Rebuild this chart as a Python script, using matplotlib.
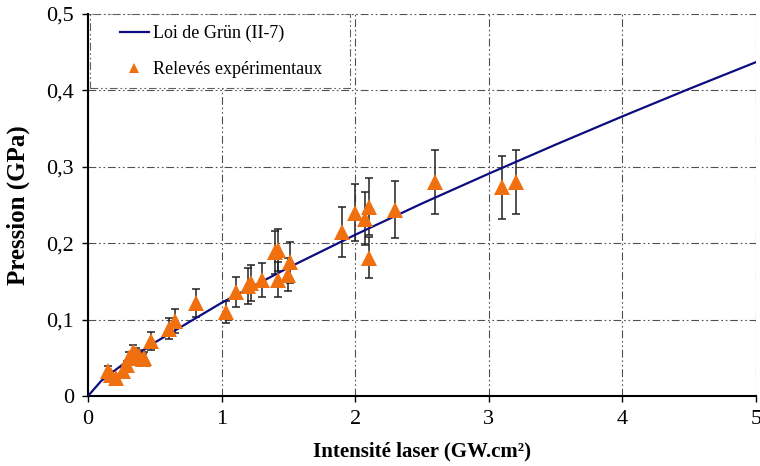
import matplotlib
matplotlib.use("Agg")
import matplotlib.pyplot as plt
from matplotlib.ticker import FuncFormatter
from matplotlib.patches import Rectangle

# Grün law curve
law_I = [0.0, 0.1, 0.25, 0.5, 1.0, 1.5, 2.0, 2.5, 3.0, 3.5, 4.0, 4.5, 5.0]
law_P = [0.0, 0.020, 0.040, 0.070, 0.122, 0.168, 0.211, 0.252, 0.291, 0.329, 0.366, 0.402, 0.437]

# Experimental points
exp_I = [0.15, 0.17, 0.21, 0.26, 0.29, 0.31, 0.34, 0.36, 0.38, 0.41, 0.42, 0.47, 0.61, 0.65,
         0.81, 1.03, 1.11, 1.20, 1.22, 1.30, 1.40, 1.42, 1.42, 1.50, 1.51, 1.90, 2.00, 2.07,
         2.10, 2.10, 2.30, 2.60, 3.10, 3.20]
exp_P = [0.033, 0.028, 0.024, 0.033, 0.040, 0.050, 0.058, 0.055, 0.052, 0.048, 0.050, 0.072,
         0.088, 0.098, 0.122, 0.110, 0.136, 0.144, 0.148, 0.152, 0.188, 0.191, 0.152, 0.159,
         0.175, 0.215, 0.240, 0.232, 0.248, 0.181, 0.244, 0.280, 0.273, 0.280]
exp_err = [0.006, 0.005, 0.004, 0.005, 0.006, 0.008, 0.009, 0.008, 0.008, 0.007, 0.007, 0.012,
           0.014, 0.016, 0.018, 0.015, 0.020, 0.023, 0.023, 0.022, 0.028, 0.028, 0.023, 0.022,
           0.027, 0.033, 0.037, 0.035, 0.037, 0.027, 0.037, 0.042, 0.041, 0.042]

x_ticks = [0, 1, 2, 3, 4, 5]
y_ticks = [0, 0.1, 0.2, 0.3, 0.4, 0.5]

plt.rcParams['font.family'] = ['Liberation Serif', 'DejaVu Serif']

fig = plt.figure(figsize=(7.6, 4.66), dpi=100)
ax = fig.add_axes([88/760, 70/466, 668/760, 382/466])

gridstyle = (0, (7, 2.5, 1.5, 2.5, 1.5, 2.5))
ax.set_axisbelow(True)
ax.grid(True, color='#505050', linewidth=0.8, linestyle=gridstyle)

ax.plot(law_I, law_P, color='#0d0d80', linewidth=1.6, label='Loi de Grün (II-7)', zorder=3)
ax.errorbar(exp_I, exp_P, yerr=exp_err, fmt='none', ecolor='#222222', elinewidth=1.1,
            capsize=3, capthick=1.1, zorder=2)
ax.plot(exp_I, exp_P, linestyle='none', marker='^', markersize=11, color='#f07010',
        markeredgewidth=0, label='Relevés expérimentaux', zorder=4)

ax.set_xlim(0, 5)
ax.set_ylim(0, 0.5)
ax.set_xticks(x_ticks)
ax.set_yticks(y_ticks)
ax.yaxis.set_major_formatter(FuncFormatter(lambda v, p: ('%g' % v).replace('.', ',')))
ax.tick_params(axis='both', direction='out', length=4, width=1, labelsize=16, pad=6)

for s in ['top', 'right']:
    ax.spines[s].set_visible(False)
for s in ['left', 'bottom']:
    ax.spines[s].set_linewidth(1.5)

ax.set_xlabel('Intensité laser (GW.cm²)', fontsize=15, fontweight='bold', labelpad=9)
ax.set_ylabel('Pression (GPa)', fontsize=18, fontweight='bold', labelpad=12)

# legend box (white, dash-dot border)
box = Rectangle((2/668, 308/382), 260/668, 74/382, transform=ax.transAxes,
                facecolor='white', edgecolor='#606060', linewidth=0.8,
                linestyle=gridstyle, zorder=5, clip_on=False)
ax.add_patch(box)

leg = ax.legend(loc='upper left', bbox_to_anchor=(32/668, 0.972), fontsize=13,
                frameon=False, handlelength=1.6, handletextpad=0.25, labelspacing=1.05,
                borderpad=0, borderaxespad=0, markerscale=0.6)
leg.set_zorder(6)

fig.savefig('out.png', dpi=100)
